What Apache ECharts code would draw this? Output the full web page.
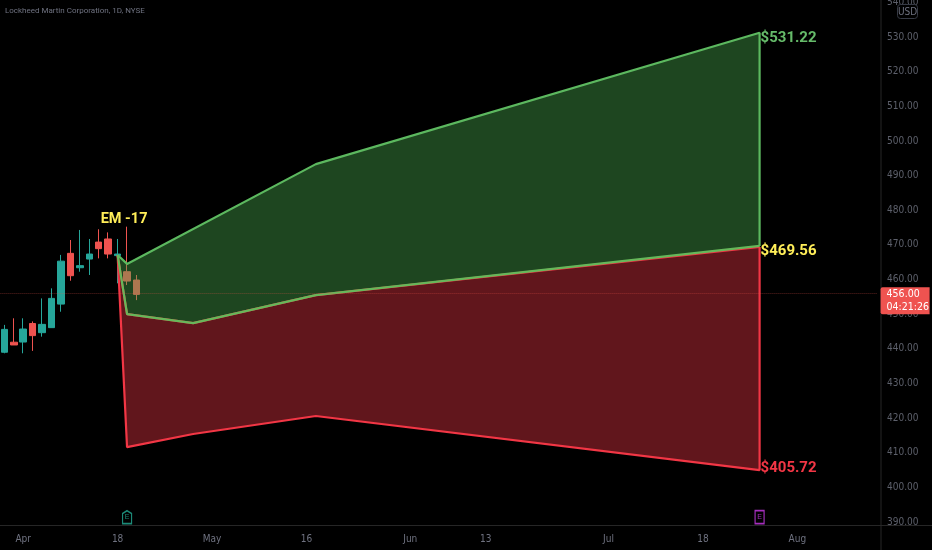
<!DOCTYPE html>
<html><head><meta charset="utf-8">
<style>html,body{margin:0;padding:0;background:#000}#c{width:932px;height:550px}</style>
<script src="https://cdn.jsdelivr.net/npm/echarts@6/dist/echarts.min.js"></script>
</head><body><div id="c"></div>
<script>
const title = 'Lockheed Martin Corporation, 1D, NYSE';
const categories = ['03-30','03-31','04-01','04-04','04-05','04-06','04-07','04-08','04-11','04-12','04-13','04-14','04-18','04-19','04-20','04-21','04-22','04-25','04-26','04-27','04-28','04-29','05-02','05-03','05-04','05-05','05-06','05-09','05-10','05-11','05-12','05-13','05-16','05-17','05-18','05-19','05-20','05-23','05-24','05-25','05-26','05-27','05-31','06-01','06-02','06-03','06-06','06-07','06-08','06-09','06-10','06-13','06-14','06-15','06-16','06-17','06-21','06-22','06-23','06-24','06-27','06-28','06-29','06-30','07-01','07-05','07-06','07-07','07-08','07-11','07-12','07-13','07-14','07-15','07-18','07-19','07-20','07-21','07-22','07-25','07-26','07-27','07-28','07-29','08-01','08-02','08-03','08-04','08-05','08-08','08-09','08-10','08-11'];
const xTickLabels = {'04-01':'Apr','04-18':'18','05-02':'May','05-16':'16','06-01':'Jun','06-13':'13','07-01':'Jul','07-18':'18','08-01':'Aug'};
// [open, close, low, high]
const candles = [
 [439.0,445.6,438.7,446.9],[441.9,441.1,441.1,448.8],[441.95,445.7,438.7,448.8],[447.3,443.8,439.4,447.9],
 [444.65,447.05,443.5,454.55],[446.1,454.55,446.1,457.45],[452.9,465.3,450.7,467.1],[467.55,461.1,459.65,471.4],
 [463.4,464.0,462.25,474.3],[465.9,467.35,461.3,471.7],[470.8,468.9,466.1,474.5],[471.7,467.35,466.1,473.6],
 [466.9,467.35,458.9,471.7],[462.25,459.55,458.4,475.25],[459.85,455.7,454.05,461.3]
];
const vertexDates = ['04-18','04-19','04-28','05-17','07-26'];
const upperValues = [467.07,464.5,null,493.3,531.22];
const midValues = [467.07,450.0,447.4,455.5,469.7];
const midRedValues = [467.07,450.0,447.4,455.5,469.4];
const lowerValues = [467.07,411.6,415.4,420.6,405.0];
const endLabels = [['$531.22',531.22,'#66bb6a',5],['$469.56',469.56,'#ffee58',5],['$405.72',405.72,'#f23645',1]];
const emLabel = ['EM -17','04-19',477.75];
const lastPrice = 456, countdown = '04:21:26';
const earnings = [['04-19',391.4,'#1c8a78'],['07-26',391.4,'#a52fbd']];

const pts = (vals) => vertexDates.map((d,i)=>vals[i]==null?null:[d,vals[i]]).filter(Boolean);
const upperLine = pts(upperValues).concat([[vertexDates[4],midValues[4]]]);
const midLine = pts(midValues);
const midRedLine = pts(midRedValues);
const lowerLine = pts(lowerValues).concat([[vertexDates[4],midRedValues[4]]]);
const greenPoly = pts(upperValues).concat(pts(midValues).reverse());
const redPoly = pts(midRedValues).concat(pts(lowerValues).reverse());
const poly = (points, fill) => ({
  type:'custom', coordinateSystem:'cartesian2d', silent:true, z:3, clip:true,
  data:[[0,0]], encode:{x:0,y:1},
  renderItem:(p,api)=>({type:'polygon',shape:{points:points.map(q=>api.coord([categories.indexOf(q[0]),q[1]]))},style:{fill:fill}})
});
const line = (data,color,z) => ({type:'line',data,symbol:'none',z,lineStyle:{color,width:2.2},silent:true});
const FONT = '"DejaVu Sans Condensed","Liberation Sans",sans-serif';
const BIG = 'Roboto,sans-serif';

const chart = echarts.init(document.getElementById('c'),null,{renderer:'canvas'});
chart.setOption({
  animation:false, backgroundColor:'#000',
  title:{text:title,left:0,top:0,padding:[7,0,0,5],textStyle:{color:'#6f7280',fontSize:8,fontWeight:'normal',fontFamily:'Roboto,sans-serif'}},
  grid:{left:-0.4,top:2.36,width:878,height:519.64,outerBoundsMode:'none'},
  xAxis:{type:'category',data:categories,boundaryGap:true,
    axisLine:{show:false},axisTick:{show:false},splitLine:{show:false},
    axisLabel:{color:'#6f7280',fontSize:10,fontFamily:FONT,margin:12,hideOverlap:false,
      interval:(i,v)=>v in xTickLabels,formatter:v=>xTickLabels[v]||''}},
  yAxis:{type:'value',position:'right',offset:3.4,min:390,max:540,interval:10,
    axisLine:{show:false},axisTick:{show:false},splitLine:{show:false},
    axisLabel:{color:'#5d606b',fontSize:10,fontFamily:FONT,margin:6,padding:[2,0,0,0],formatter:v=>v.toFixed(2)}},
  graphic:[
    {type:'line',z:1,shape:{x1:881,y1:0,x2:881,y2:550},style:{stroke:'#262626',lineWidth:1}},
    {type:'line',z:1,shape:{x1:0,y1:525.5,x2:932,y2:525.5},style:{stroke:'#262626',lineWidth:1}},
    {type:'rect',z:100,shape:{x:897.5,y:4.5,width:20,height:14,r:3},style:{fill:'#000',stroke:'#363a45',lineWidth:1}},
    {type:'text',z:101,x:907.5,y:12,style:{text:'USD',fill:'#6f7280',font:'10px '+FONT,align:'center',verticalAlign:'middle'}}
  ],
  series:[
    {type:'candlestick',z:2,barWidth:7,data:candles,silent:true,
      itemStyle:{color:'#26a69a',color0:'#ef5350',borderColor:'#26a69a',borderColor0:'#ef5350'},
      markLine:{silent:true,symbol:'none',precision:2,z:50,
        lineStyle:{type:'dotted',color:'rgba(239,83,80,.38)',width:1},
        label:{position:'end',distance:3,offset:[0,7.5],formatter:lastPrice.toFixed(2)+'\n'+countdown,color:'#fff',backgroundColor:'#ef5350',
          fontSize:10.5,lineHeight:13.5,fontFamily:FONT,padding:[0,3,0,6],width:40,height:27,align:'left',borderRadius:[2,0,0,2]},
        data:[{yAxis:lastPrice}]}},
    poly(greenPoly,'rgba(76,175,80,.4)'),
    poly(redPoly,'rgba(242,54,69,.4)'),
    line(lowerLine,'#f23645',5),
    line(midRedLine,'#f23645',5),
    line(upperLine,'#5cb85f',6),
    line(midLine,'#66b85a',6),
    {type:'scatter',z:8,silent:true,symbolSize:0,itemStyle:{opacity:1},
      data:endLabels.map(l=>({value:[vertexDates[4],l[1]],
        label:{show:true,position:'right',distance:1,offset:[0,l[3]],formatter:l[0],color:l[2],fontSize:15,fontWeight:'bold',fontFamily:BIG}}))},
    {type:'scatter',z:8,silent:true,symbolSize:0,itemStyle:{opacity:1},
      data:[{value:[emLabel[1],emLabel[2]],label:{show:true,position:'inside',offset:[-3,1],formatter:emLabel[0],color:'#ffee58',fontSize:14.5,fontWeight:'bold',fontFamily:BIG}}]},
    {type:'scatter',z:8,silent:true,symbol:'path://M5 0 L10 3 L10 14 L0 14 L0 3 Z',symbolSize:[9,13],itemStyle:{opacity:1},
      data:[{value:[earnings[0][0],earnings[0][1]],itemStyle:{color:'transparent',borderColor:earnings[0][2],borderWidth:1.4},
        label:{show:true,position:'inside',formatter:'E',color:earnings[0][2],fontSize:7}},
        {value:[earnings[1][0],earnings[1][1]],symbol:'rect',itemStyle:{color:'transparent',borderColor:earnings[1][2],borderWidth:1.4},
        label:{show:true,position:'inside',formatter:'E',color:earnings[1][2],fontSize:7}}]}
  ]
});
</script></body></html>
